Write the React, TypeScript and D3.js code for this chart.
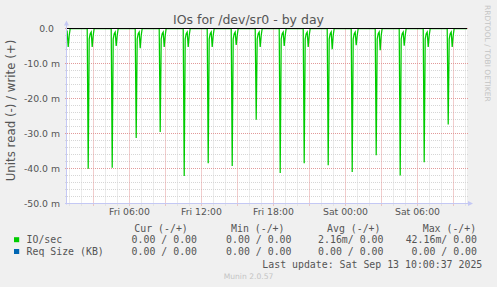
import React from "react";
import * as d3 from "d3";

const W = 497;
const H = 287;
const PLOT = { left: 67, right: 467, top: 28.5, bottom: 203.5 };

const parse = d3.timeParse("%Y-%m-%d %H:%M");
const domainStart = "2025-09-12 00:46";
const domainEnd = "2025-09-13 10:06";

// read (-) spikes, in milli IOs/sec
const eventTimes = [
  "2025-09-12 00:32", "2025-09-12 02:32", "2025-09-12 04:32", "2025-09-12 06:32",
  "2025-09-12 08:32", "2025-09-12 10:32", "2025-09-12 12:32", "2025-09-12 14:32",
  "2025-09-12 16:32", "2025-09-12 18:32", "2025-09-12 20:32", "2025-09-12 22:32",
  "2025-09-13 00:32", "2025-09-13 02:32", "2025-09-13 04:32", "2025-09-13 06:32",
  "2025-09-13 08:32",
];
const bigReads = [-40.0, -40.1, -39.8, -31.3, -29.6, -42.16, -38.5, -39.3, -26.1, -41.3, -38.5, -39.1, -41.0, -36.2, -42.0, -38.2, -27.4];
const smallReads = [-5.3, -5.3, -5.0, -5.6, -5.3, -5.3, -5.3, -4.7, -5.3, -5.0, -5.3, -5.9, -4.8, -6.2, -4.9, -5.3, -5.3];
const tailAfterBig = [-3.0, -1.5, -1.0];
const tailAfterSmall = [-2.0];

const yTickValues = [0, -10, -20, -30, -40, -50];
const yTickLabels = ["0.0", "-10.0 m", "-20.0 m", "-30.0 m", "-40.0 m", "-50.0 m"];
const xTickTimes = ["2025-09-12 06:00", "2025-09-12 12:00", "2025-09-12 18:00", "2025-09-13 00:00", "2025-09-13 06:00"];
const xTickLabels = ["Fri 06:00", "Fri 12:00", "Fri 18:00", "Sat 00:00", "Sat 06:00"];

const legendHeaders = ["Cur (-/+)", "Min (-/+)", "Avg (-/+)", "Max (-/+)"];
const seriesNames = ["IO/sec", "Req Size (KB)"];
const seriesColors = ["#00cc00", "#0066b3"];
const seriesStats = [
  ["0.00 / 0.00", "0.00 / 0.00", "2.16m/ 0.00", "42.16m/ 0.00"],
  ["0.00 / 0.00", "0.00 / 0.00", "0.00 / 0.00", "0.00 / 0.00"],
];
const lastUpdate = "Last update: Sat Sep 13 10:00:37 2025";

const headerX = [134.3, 231, 327, 422.7];
const statEndX = [197, 291.5, 383.5, 477];

export default function App() {
  const x = d3.scaleTime().domain([parse(domainStart)!, parse(domainEnd)!]).range([PLOT.left, PLOT.right]);
  const y = d3.scaleLinear().domain([-50, 0]).range([PLOT.bottom, PLOT.top]);

  const pts: [Date, number][] = [[parse("2025-09-12 00:00")!, 0]];
  eventTimes.forEach((s, i) => {
    const t = parse(s)!;
    const at = (m: number) => new Date(t.getTime() + m * 60000);
    pts.push([at(-5), 0], [at(0), bigReads[i]]);
    tailAfterBig.forEach((v, j) => pts.push([at(5 * (j + 1)), v]));
    pts.push([at(20), smallReads[i]]);
    tailAfterSmall.forEach((v, j) => pts.push([at(25 + 5 * j), v]));
    pts.push([at(25 + 5 * tailAfterSmall.length), 0]);
  });
  pts.push([parse("2025-09-13 11:00")!, 0]);

  const line = d3.line<[Date, number]>().x((d) => x(d[0])).y((d) => y(d[1]));

  const hours = x.ticks(d3.timeHour.every(1)!);
  const minorV = hours.filter((d) => d.getHours() % 3 !== 0);
  const majorV = hours.filter((d) => d.getHours() % 3 === 0);
  const minorH = d3.range(-50, 0.001, 2).filter((v) => Math.round(v) % 10 !== 0);
  const majorH = d3.range(-50, 0.001, 10);
  const px = (v: number) => Math.floor(v) + 0.5;

  const minorCol = "#d6d6d6";
  const majorCol = "#e29a9a";
  const axisCol = "#c4c8f4";
  const textCol = "#555";

  return (
    <svg width={W} height={H} style={{ position: "fixed", left: 0, top: 0 }} xmlns="http://www.w3.org/2000/svg">
      <defs>
        <clipPath id="plotclip">
          <rect x={PLOT.left} y={PLOT.top - 1} width={PLOT.right - PLOT.left} height={PLOT.bottom - PLOT.top + 1} />
        </clipPath>
      </defs>
      <rect width={W} height={H} fill="#f0f0f0" />
      <rect x={PLOT.left} y={PLOT.top - 0.5} width={PLOT.right - PLOT.left} height={PLOT.bottom - PLOT.top} fill="#fff" />
      <text x={W / 2} y={24} textAnchor="middle" fontFamily="DejaVu Sans" fontSize={12.5} fill={textCol}>IOs for /dev/sr0 - by day</text>
      <text transform="translate(485,5) rotate(90)" fontFamily="DejaVu Sans" fontSize={7.5} fill="#c4c4c4">RRDTOOL / TOBI OETIKER</text>
      <text transform="translate(14.5,110.5) rotate(-90)" textAnchor="middle" fontFamily="DejaVu Sans" fontSize={11.8} fill={textCol}>Units read (-) / write (+)</text>

      {/* grid */}
      {minorH.map((v) => (
        <line key={"mh" + v} x1={PLOT.left - 2} x2={PLOT.right + 2} y1={px(y(v))} y2={px(y(v))} stroke={minorCol} strokeDasharray="1,1" />
      ))}
      {minorV.map((d) => (
        <line key={"mv" + d.getTime()} x1={px(x(d))} x2={px(x(d))} y1={PLOT.top} y2={PLOT.bottom + 2} stroke={minorCol} strokeDasharray="1,1" />
      ))}
      {majorH.map((v) => (
        <line key={"Mh" + v} x1={PLOT.left - 2} x2={PLOT.right + 2} y1={px(y(v))} y2={px(y(v))} stroke={majorCol} strokeDasharray="1,1" />
      ))}
      {majorV.map((d) => (
        <line key={"Mv" + d.getTime()} x1={px(x(d))} x2={px(x(d))} y1={PLOT.top} y2={PLOT.bottom + 2} stroke={majorCol} strokeDasharray="1,1" />
      ))}

      {/* axes */}
      <line x1={PLOT.left - 0.5} x2={PLOT.left - 0.5} y1={PLOT.top - 4} y2={PLOT.bottom + 1} stroke={axisCol} />
      <line x1={PLOT.left - 2} x2={PLOT.right + 2} y1={PLOT.bottom} y2={PLOT.bottom} stroke={axisCol} />
      <path d={`M${PLOT.left - 3},${PLOT.top - 3} L${PLOT.left - 0.5},${PLOT.top - 8} L${PLOT.left + 2},${PLOT.top - 3} Z`} fill={axisCol} />
      <path d={`M${PLOT.right + 1},${PLOT.bottom - 2.5} L${PLOT.right + 6},${PLOT.bottom} L${PLOT.right + 1},${PLOT.bottom + 2.5} Z`} fill={axisCol} />

      {/* data */}
      <g clipPath="url(#plotclip)">
        <path d={line([[parse("2025-09-12 00:00")!, 0], [parse("2025-09-13 11:00")!, 0]]) || ""} fill="none" stroke="#00cc00" strokeWidth={1} />
        <path d={line(pts) || ""} fill="none" stroke="#00cc00" strokeWidth={1.25} />
      </g>
      <line x1={PLOT.left} x2={PLOT.right} y1={y(0)} y2={y(0)} stroke="#000" strokeWidth={1} />

      {/* tick labels */}
      {yTickValues.map((v, i) => (
        <text key={"yl" + v} x={yTickLabels[i].endsWith("m") ? 60 : 54} y={y(v) + 3.4} textAnchor="end" fontFamily="DejaVu Sans" fontSize={9.3} fill={textCol}>{yTickLabels[i]}</text>
      ))}
      {xTickTimes.map((s, i) => (
        <text key={"xl" + s} x={px(x(parse(s)!))} y={215.2} textAnchor="middle" fontFamily="DejaVu Sans" fontSize={9.3} fill={textCol}>{xTickLabels[i]}</text>
      ))}

      {/* legend */}
      <g fontFamily="DejaVu Sans Mono" fontSize={9.9} fill={textCol} style={{ whiteSpace: "pre" }}>
        {legendHeaders.map((h, i) => (
          <text key={h} x={headerX[i]} y={232.2}>{h}</text>
        ))}
        {seriesNames.map((n, r) => (
          <g key={n}>
            <rect x={14} y={237.2 + r * 11.8} width={5.2} height={5} fill={seriesColors[r]} />
            <text x={26.5} y={243 + r * 11.8}>{n}</text>
            {seriesStats[r].map((s, c) => (
              <text key={c} x={statEndX[c]} y={243 + r * 11.8} textAnchor="end">{s}</text>
            ))}
          </g>
        ))}
        <text x={482.3} y={268.1} textAnchor="end">{lastUpdate}</text>
      </g>
      <text x={W / 2} y={279} textAnchor="middle" fontFamily="DejaVu Sans" fontSize={7.6} fill="#c4c4c4">Munin 2.0.57</text>
    </svg>
  );
}
